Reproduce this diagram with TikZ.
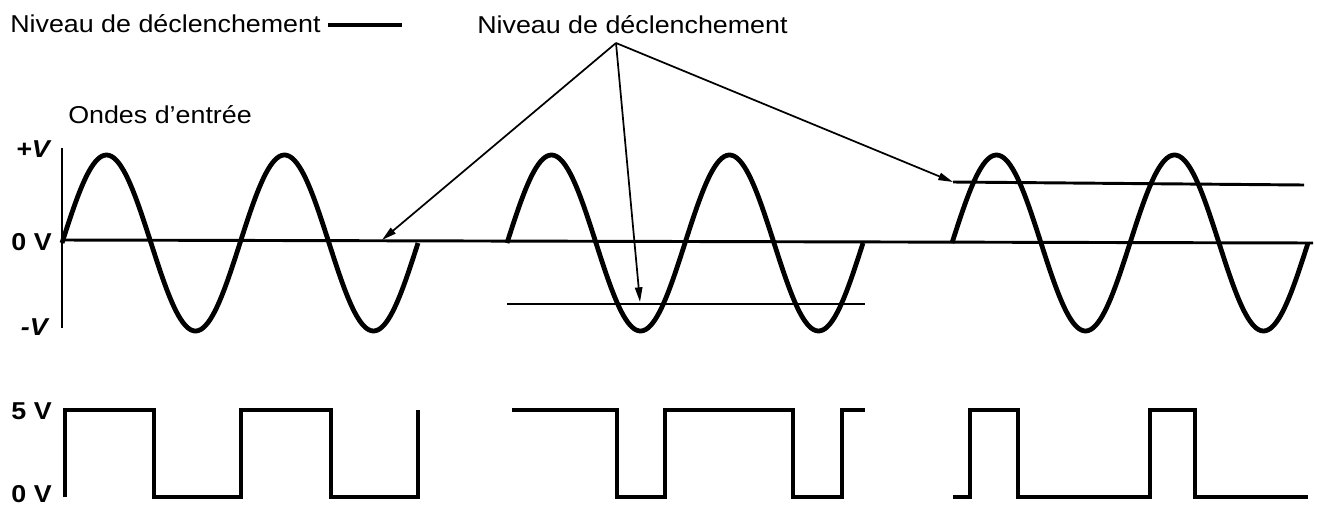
\documentclass[tikz,border=0pt]{standalone}
\usepackage{fontspec}
\setmainfont{Liberation Sans}[FakeStretch=1.1]
\usetikzlibrary{arrows.meta}
\begin{document}
\begin{tikzpicture}[x=0.75pt,y=-0.75pt,
  lbl/.style={inner sep=0pt,font=\fontsize{18.3}{22}\selectfont},
  vlbl/.style={inner sep=0pt,font=\fontsize{18.3}{22}\selectfont\bfseries},
  wave/.style={line width=3.6pt,line join=round},
  sq/.style={line width=3.4pt,line join=miter},
  lvl/.style={line width=2.2pt},
  axis/.style={line width=1.8pt},
  pointer/.style={line width=1.3pt,-{Triangle[length=11pt,width=5.5pt]}}]
\useasboundingbox (0,0) rectangle (1317,507);
\fill[white] (0,0) rectangle (1317,507);

% labels
\node[lbl,anchor=base west] (leg) at (10,32) {Niveau de déclenchement};
\coordinate (legA) at (328,25);
\coordinate (legB) at (402,25);
\draw[line width=3pt] (legA) -- (legB);
\node[lbl,anchor=base west] (niv) at (477,33) {Niveau de déclenchement};
\node[lbl,anchor=base west] (ondes) at (68,123) {Ondes d’entrée};

\node[vlbl,anchor=base east] (pV) at (50,157) {\itshape +V};
\node[vlbl,anchor=base east] (zV) at (52,250) {0 V};
\node[vlbl,anchor=base east] (mV) at (48,335) {\itshape -V};
\node[vlbl,anchor=base east] (fV) at (52,419) {5 V};
\node[vlbl,anchor=base east] (zV2) at (52,502) {0 V};

% axis
\coordinate (axT) at (62,148);
\coordinate (axB) at (62,328);
\draw[axis] (axT) -- (axB);

% zero line
\coordinate (z0) at (62,240);
\coordinate (z1) at (1313,243);
\draw[lvl] (z0) -- (z1);

% trigger lines
\coordinate (t2a) at (507,304);
\coordinate (t2b) at (865,304);
\draw[lvl] (t2a) -- (t2b);
\coordinate (t3a) at (953,182);
\coordinate (t3b) at (1304,185);
\draw[lvl] (t3a) -- (t3b);

% sine waves
\draw[wave] plot[domain=62:418,samples=160,smooth] (\x,{243-88*sin((\x-62)/178*360)});
\draw[wave] plot[domain=507:863,samples=160,smooth] (\x,{243-88*sin((\x-507)/178*360)});
\draw[wave] plot[domain=952:1308,samples=160,smooth] (\x,{243-88*sin((\x-952)/178*360)});

% pointers
\coordinate (apex) at (616,43);
\coordinate (p1) at (382,240);
\coordinate (p2) at (640,302);
\draw[pointer] (apex) -- (p1);
\draw[pointer] (apex) -- (p2);
\draw[pointer] (apex) -- (t3a);

% square waves
\draw[sq] (65,497) -- (65,410) -- (154,410) -- (154,497) -- (241,497) -- (241,410)
  -- (331,410) -- (331,497) -- (418,497) -- (418,410);
\draw[sq] (512,410) -- (617,410) -- (617,497) -- (665,497) -- (665,410) -- (793,410)
  -- (793,497) -- (842,497) -- (842,410) -- (865,410);
\draw[sq] (953,497) -- (970,497) -- (970,410) -- (1018,410) -- (1018,497) -- (1150,497)
  -- (1150,410) -- (1195,410) -- (1195,497) -- (1308,497);
\end{tikzpicture}
\end{document}
